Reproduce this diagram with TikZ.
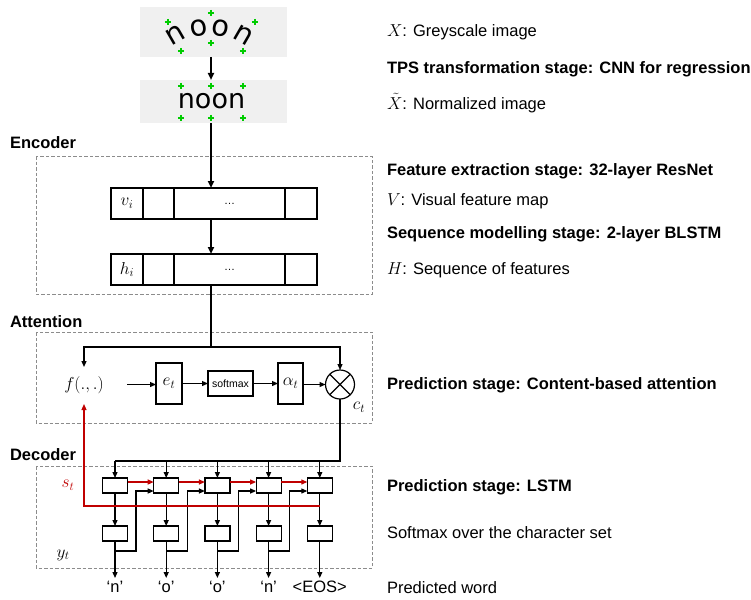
\documentclass[tikz,border=0pt]{standalone}
\usepackage{fontspec}
\setmainfont{Liberation Sans}
\newfontfamily\dejavu{DejaVu Sans}
\usetikzlibrary{arrows.meta}
\definecolor{dred}{HTML}{C00000}
\definecolor{imgbg}{HTML}{F0F0F0}
\definecolor{plusgreen}{HTML}{00CC00}
\definecolor{dashgray}{HTML}{8C8C8C}
\begin{document}
\begin{tikzpicture}[x=1pt,y=-1pt,
  every node/.style={font=\fontsize{16.5}{19}\selectfont, inner sep=0pt, outer sep=0pt},
  arr/.style={-{Triangle[length=6pt,width=5pt]}, line width=1.2pt},
  tharr/.style={-{Triangle[length=7pt,width=6pt]}, line width=2.2pt},
  thline/.style={line width=2.2pt},
  thin/.style={line width=1.2pt},
  redarr/.style={-{Triangle[length=6pt,width=5pt]}, line width=1.2pt, dred},
  cellbox/.style={draw, line width=1.2pt, minimum height=31pt},
  sbox/.style={draw, line width=1.2pt, minimum width=25pt, minimum height=15pt},
  imgbox/.style={fill=imgbg, minimum width=147pt},
  dashbox/.style={draw=dashgray, line width=1pt, dash pattern=on 3.5pt off 2pt},
  grp/.style={anchor=west, font=\fontsize{16.5}{19}\selectfont\bfseries},
  desc/.style={anchor=west},
  stage/.style={anchor=west, font=\fontsize{16.5}{19}\selectfont\bfseries},
  lett/.style={font=\fontsize{27}{30}\dejavu},
  clett/.style={font=\fontsize{29}{32}\dejavu},
  outl/.style={anchor=north, inner ysep=3pt},
  gplus/.pic={\draw[plusgreen, line width=1.7pt] (-3.2,0)--(3.2,0) (0,-3.2)--(0,3.2);}
]
\useasboundingbox (0,0) rectangle (751,599);
\coordinate (axis) at (211,0);

% ---- images
\node[imgbox, minimum height=50pt] (img1) at (213.5,32) {};
\node[imgbox, minimum height=43pt] (img2) at (213.5,101.5) {};
\node[clett, rotate=30] (l1) at (175.5,35) {n};
\node[clett, rotate=10] (l2) at (198.5,28.5) {o};
\node[clett, rotate=-10] (l3) at (221,28.5) {o};
\node[clett, rotate=-30] (l4) at (243.5,35) {n};
\node[lett, anchor=base] (w2) at (211.5,109) {noon};
\foreach \p in {(168,22),(211,13),(255,22),(181,51),(211,43),(243,51),
                (181,86),(211,86),(243,86),(181,118),(211,118),(243,118)}
  \path \p pic{gplus};

\draw[tharr] (img1.south -| axis) -- (img2.north -| axis);

% ---- encoder
\draw[dashbox] (36,156) rectangle (372,294);
\node[grp] (enc) at (10,143) {Encoder};
\node[cellbox, minimum width=32pt] (v1) at (127,203.5) {$v_i$};
\node[cellbox, minimum width=31pt] (v2) at (158.5,203.5) {};
\node[cellbox, minimum width=111pt] (v3) at (229.5,203.5) {\fontsize{11}{13}\selectfont …};
\node[cellbox, minimum width=32pt] (v4) at (301,203.5) {};
\node[cellbox, minimum width=32pt] (h1) at (127,269.5) {$h_i$};
\node[cellbox, minimum width=31pt] (h2) at (158.5,269.5) {};
\node[cellbox, minimum width=111pt] (h3) at (229.5,269.5) {\fontsize{11}{13}\selectfont …};
\node[cellbox, minimum width=32pt] (h4) at (301,269.5) {};
\draw[tharr] (img2.south -| axis) -- (v3.north -| axis);
\draw[tharr] (v3.south -| axis) -- (h3.north -| axis);

% ---- attention
\draw[dashbox] (36,332) rectangle (372,423);
\node[grp] (att) at (10,322) {Attention};
\node[minimum height=37pt] (f) at (84,385.5) {$f(.,.)$};
\node[draw, thin, minimum width=26pt, minimum height=41pt] (e) at (169,383.5) {$e_t$};
\node[draw, thin, minimum width=45pt, minimum height=25pt, font=\fontsize{10.5}{12}\selectfont] (sm) at (230.5,383.5) {softmax};
\node[draw, thin, minimum width=25pt, minimum height=41pt] (al) at (290.5,383.5) {$\alpha_t$};
\node[draw, thin, circle, minimum size=29pt] (cr) at (340,384.5) {};
\draw[thin] (cr.north west) -- (cr.south east) (cr.north east) -- (cr.south west);
\node (ct) at (359,407) {$c_t$};
\coordinate (split) at (211,347);
\draw[thline] (h3.south -| axis) -- (split);
\draw[arr] (split) -| (f.north);
\draw[arr] (split) -| (cr.north);
\draw[arr] ([xshift=-29pt]e.west |- cr.west) -- (e.west |- cr.west);
\draw[arr] (e.east) -- (sm.west);
\draw[arr] (sm.east) -- (al.west);
\draw[arr] (al.east |- cr.west) -- (cr.west);

% ---- decoder
\draw[dashbox] (36,466) rectangle (372,568);
\node[grp] (dec) at (10,455) {Decoder};
\node[dred] (st) at (68,485) {$s_t$};
\node (yt) at (63,555) {$y_t$};
\coordinate (dsplit) at (340,461);
\coordinate (redy) at (0,506);
\foreach \i/\x/\t in {1/115/‘n’,2/166.2/‘o’,3/217.4/‘o’,4/268.6/‘n’,5/319.8/<EOS>}{
  \node[sbox] (L\i) at (\x,485.5) {};
  \node[sbox] (B\i) at (\x,533.5) {};
  \node[outl] (o\i) at (\x,578) {\t};
  \draw[arr] (L\i.north |- dsplit) -- (L\i.north);
  \draw[arr] (L\i.south) -- (B\i.north);
  \draw[arr] (B\i.south) -- (o\i.north);
}
\draw[thin] (cr.south) -- (dsplit) -- (dsplit -| L1.north);
\foreach \i/\j in {1/2,2/3,3/4,4/5}{
  \draw[redarr] ([yshift=3.5pt]L\i.east) -- ([yshift=3.5pt]L\j.west);
  \draw[arr] ([yshift=-10pt]B\i.south) -- ++(21,0) |- ([yshift=-5.5pt]L\j.west);
}
\draw[redarr] (L5.south |- redy) -| (f.south);

% ---- right descriptions
\node[desc] (d1) at (387,32) {$X$: Greyscale image};
\node[stage] (d2) at (387,69) {TPS transformation stage: CNN for regression};
\node[desc] (d3) at (387,103) {$\tilde{X}$: Normalized image};
\node[stage] (d4) at (387,171) {Feature extraction stage: 32-layer ResNet};
\node[desc] (d5) at (387,201) {$V$: Visual feature map};
\node[stage] (d6) at (387,234) {Sequence modelling stage: 2-layer BLSTM};
\node[desc] (d7) at (387,270) {$H$: Sequence of features};
\node[stage] (d8) at (387,385) {Prediction stage: Content-based attention};
\node[stage] (d9) at (387,487) {Prediction stage: LSTM};
\node[desc] (d10) at (387,533) {Softmax over the character set};
\node[desc] (d11) at (387,588) {Predicted word};
\end{tikzpicture}
\end{document}
